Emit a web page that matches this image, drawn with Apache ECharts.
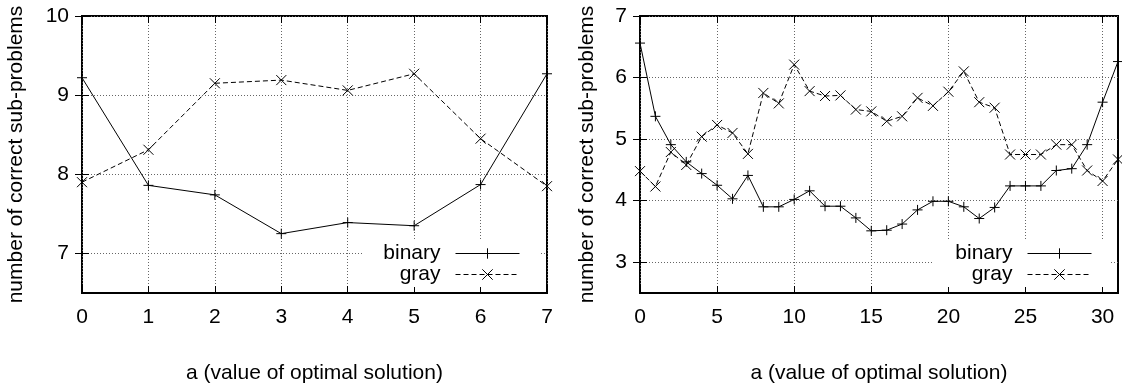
<!DOCTYPE html>
<html>
<head>
<meta charset="utf-8">
<script src="https://cdn.jsdelivr.net/npm/echarts@6/dist/echarts.min.js"></script>
<style>
  html, body { margin: 0; padding: 0; background: #fff; }
  #chart { width: 1122px; height: 389px; }
</style>
</head>
<body>
<div id="chart"></div>
<script>
// left panel: a = 0..7
const leftA = [0, 1, 2, 3, 4, 5, 6, 7];
const leftBinary = [9.22, 7.86, 7.74, 7.25, 7.39, 7.35, 7.87, 9.27];
const leftGray = [7.90, 8.31, 9.15, 9.19, 9.06, 9.27, 8.45, 7.85];
const leftXTicks = [0, 1, 2, 3, 4, 5, 6, 7];
const leftYTicks = [7, 8, 9, 10];

// right panel: a = 0..31
const rightA = [0, 1, 2, 3, 4, 5, 6, 7, 8, 9, 10, 11, 12, 13, 14, 15,
  16, 17, 18, 19, 20, 21, 22, 23, 24, 25, 26, 27, 28, 29, 30, 31];
const rightBinary = [6.56, 5.37, 4.91, 4.63, 4.44, 4.25, 4.03, 4.41, 3.90, 3.90, 4.02, 4.16, 3.91, 3.91, 3.72, 3.51,
  3.52, 3.62, 3.85, 3.99, 3.99, 3.90, 3.71, 3.89, 4.24, 4.24, 4.24, 4.49, 4.52, 4.91, 5.60, 6.26];
const rightGray = [4.48, 4.23, 4.79, 4.58, 5.04, 5.23, 5.10, 4.76, 5.75, 5.58, 6.21, 5.78, 5.70, 5.71, 5.48, 5.45,
  5.29, 5.37, 5.67, 5.54, 5.77, 6.10, 5.60, 5.51, 4.75, 4.75, 4.75, 4.91, 4.91, 4.49, 4.32, 4.67];
const rightXTicks = [0, 5, 10, 15, 20, 25, 30];
const rightYTicks = [3, 4, 5, 6, 7];

const FONT = "'Liberation Sans', Arial, sans-serif";
const plusSym = 'path://M0,5L10,5M5,0L5,10';
const crossSym = 'path://M0,0L10,10M10,0L0,10';
const gridLine = { show: true, lineStyle: { color: '#666', type: [1, 2], width: 1 } };

const chart = echarts.init(document.getElementById('chart'));

function pairs(xs, ys) {
  return xs.map((x, i) => [x, ys[i]]);
}

function mainX(grid, min, max, ticks) {
  return {
    type: 'value', gridIndex: grid, min: min, max: max, position: 'bottom',
    name: 'a (value of optimal solution)', nameLocation: 'middle', nameGap: 70,
    nameTextStyle: { fontFamily: FONT, fontSize: 21, color: '#000' },
    axisLine: { show: false },
    axisTick: { inside: true, length: 7, customValues: ticks, lineStyle: { color: '#000' } },
    axisLabel: { customValues: ticks, margin: 14, fontFamily: FONT, fontSize: 21, color: '#000' },
    splitLine: gridLine
  };
}
function mirrorX(grid, min, max, ticks) {
  return {
    type: 'value', gridIndex: grid, min: min, max: max, position: 'top',
    axisLine: { show: false },
    axisTick: { inside: true, length: 7, customValues: ticks, lineStyle: { color: '#000' } },
    axisLabel: { show: false },
    splitLine: { show: false }
  };
}
function mainY(grid, min, max, ticks, gap) {
  return {
    type: 'value', gridIndex: grid, min: min, max: max, position: 'left',
    name: 'number of correct sub-problems', nameLocation: 'middle', nameGap: gap, nameRotate: 90,
    nameTextStyle: { fontFamily: FONT, fontSize: 21, color: '#000' },
    axisLine: { show: false },
    axisTick: { inside: true, length: 7, customValues: ticks, lineStyle: { color: '#000' } },
    axisLabel: { customValues: ticks, margin: 13, fontFamily: FONT, fontSize: 21, color: '#000' },
    splitLine: gridLine
  };
}
function mirrorY(grid, min, max, ticks) {
  return {
    type: 'value', gridIndex: grid, min: min, max: max, position: 'right',
    axisLine: { show: false },
    axisTick: { inside: true, length: 7, customValues: ticks, lineStyle: { color: '#000' } },
    axisLabel: { show: false },
    splitLine: { show: false }
  };
}
function line(name, xi, yi, data, dashed) {
  return {
    name: name, type: 'line', xAxisIndex: xi, yAxisIndex: yi, data: data,
    symbol: dashed ? crossSym : plusSym, symbolSize: 10, clip: false,
    lineStyle: { color: '#000', width: 1, type: dashed ? [5, 3] : 'solid' },
    itemStyle: { color: '#000', borderColor: '#000', borderWidth: 1 },
    emphasis: { disabled: true },
    z: 3
  };
}
function legend(right) {
  return {
    data: ['binary', 'gray'], orient: 'vertical', align: 'right',
    right: right, top: 243, padding: 0, itemGap: 0,
    itemWidth: 64, itemHeight: 13, selectedMode: false,
    lineStyle: { width: 1 },
    itemStyle: { borderWidth: 1 },
    textStyle: { fontFamily: FONT, fontSize: 21, color: '#000', lineHeight: 21, padding: [0, 10, 0, 0] }
  };
}

chart.setOption({
  animation: false,
  backgroundColor: '#fff',
  grid: [
    { left: 82, right: 575, top: 16, bottom: 94, show: true, borderColor: '#000', borderWidth: 2 },
    { left: 640, right: 4, top: 16, bottom: 94, show: true, borderColor: '#000', borderWidth: 2 }
  ],
  xAxis: [
    mainX(0, 0, 7, leftXTicks), mirrorX(0, 0, 7, leftXTicks),
    mainX(1, 0, 31, rightXTicks), mirrorX(1, 0, 31, rightXTicks)
  ],
  yAxis: [
    mainY(0, 6.5, 10, leftYTicks, 55), mirrorY(0, 6.5, 10, leftYTicks),
    mainY(1, 2.5, 7, rightYTicks, 42), mirrorY(1, 2.5, 7, rightYTicks)
  ],
  legend: [legend(602), legend(30)],
  // blank box behind each key, as gnuplot clears the grid there
  graphic: [
    { type: 'rect', z: 1, shape: { x: 362, y: 240, width: 177, height: 47 }, style: { fill: '#fff' } },
    { type: 'rect', z: 1, shape: { x: 933, y: 240, width: 177, height: 47 }, style: { fill: '#fff' } }
  ],
  series: [
    line('binary', 0, 0, pairs(leftA, leftBinary), false),
    line('gray', 0, 0, pairs(leftA, leftGray), true),
    line('binary', 2, 2, pairs(rightA, rightBinary), false),
    line('gray', 2, 2, pairs(rightA, rightGray), true)
  ]
});
</script>
</body>
</html>
